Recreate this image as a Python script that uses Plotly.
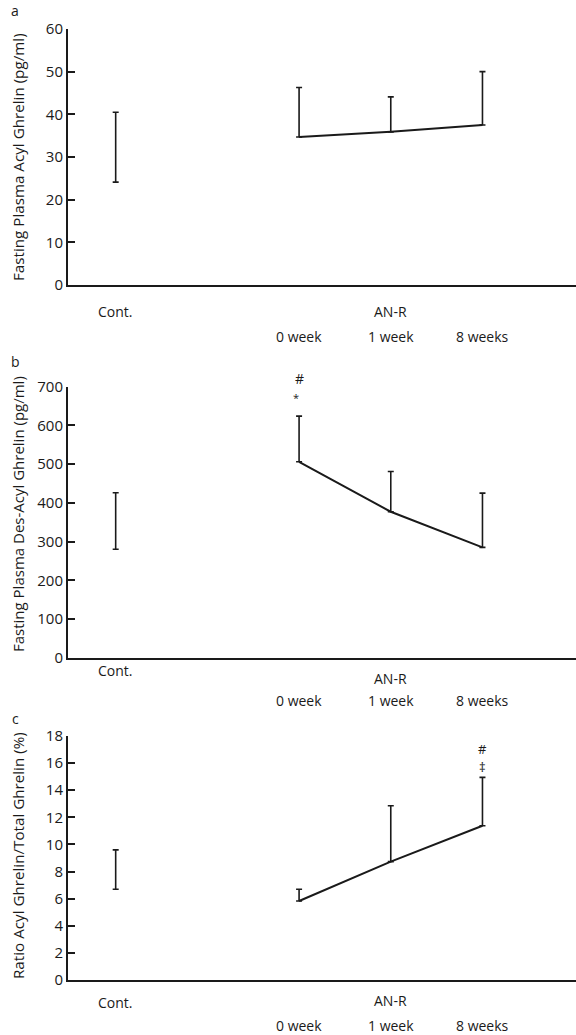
import plotly.graph_objects as go

# ---- data ----
weeks = ["0 week", "1 week", "8 weeks"]
group_labels = ["Cont.", "AN-R"]

# panel a: acyl ghrelin (pg/ml)
acyl_cont_mean = 32.3
acyl_cont_sd = 8.2
acyl_anr_mean = [34.7, 35.9, 37.5]
acyl_anr_sd = [11.6, 8.2, 12.5]

# panel b: des-acyl ghrelin (pg/ml)
des_cont_mean = 353
des_cont_sd = 73
des_anr_mean = [506, 377, 285]
des_anr_sd = [118, 104, 140]

# panel c: ratio acyl / total (%)
ratio_cont_mean = 8.15
ratio_cont_sd = 1.45
ratio_anr_mean = [5.83, 8.73, 11.38]
ratio_anr_sd = [0.87, 4.12, 3.57]

y_titles = [
    "Fasting Plasma Acyl Ghrelin (pg/ml)",
    "Fasting Plasma Des-Acyl Ghrelin (pg/ml)",
    "Ratio Acyl Ghrelin/Total Ghrelin (%)",
]
y_ranges = [[0, 60], [0, 700], [0, 18]]
y_dtick = [10, 100, 2]
panel_letters = ["a", "b", "c"]

# x positions (numeric scale)
x_cont = 0
x_weeks = [2, 3, 4]

INK = "#1a1a1a"
FONT = "Open Sans"
H = 1035.0
W = 576.0
ML = 68.0

# pixel geometry of the panels
panel_px = [(29, 285), (386.7, 657.7), (736, 980)]          # (top, bottom)
cont_px = [311, 670, 1002]                                   # y of "Cont."
anr_px = [311, 678, 1000]                                    # y of "AN-R"
week_px = [336, 700, 1025]                                   # y of week labels
title_cy = [157, 514, 856]                                   # y-title centres
title_size = [15.2, 15.0, 15.2]
letter_px = [10, 362, 718]

fig = go.Figure()

panels = [
    (acyl_cont_mean, acyl_cont_sd, acyl_anr_mean, acyl_anr_sd),
    (des_cont_mean, des_cont_sd, des_anr_mean, des_anr_sd),
    (ratio_cont_mean, ratio_cont_sd, ratio_anr_mean, ratio_anr_sd),
]

for i, (cm, cs, am, asd) in enumerate(panels):
    xa = "x" if i == 0 else f"x{i+1}"
    ya = "y" if i == 0 else f"y{i+1}"
    # control: mean ± SD bar, no marker
    fig.add_trace(go.Scatter(
        x=[x_cont], y=[cm], mode="markers",
        marker=dict(size=1, color="rgba(0,0,0,0)"),
        error_y=dict(type="data", array=[cs], arrayminus=[cs], symmetric=False,
                     color=INK, thickness=1.6, width=3),
        xaxis=xa, yaxis=ya, showlegend=False, hoverinfo="skip"))
    # AN-R: mean line with upward SD bars
    fig.add_trace(go.Scatter(
        x=x_weeks, y=am, mode="lines",
        line=dict(color=INK, width=2),
        error_y=dict(type="data", array=asd, arrayminus=[0, 0, 0], symmetric=False,
                     color=INK, thickness=1.6, width=3),
        xaxis=xa, yaxis=ya, showlegend=False, hoverinfo="skip"))

layout = dict(
    width=576, height=1035,
    margin=dict(l=ML, r=0, t=0, b=0, autoexpand=False),
    paper_bgcolor="white", plot_bgcolor="white",
    font=dict(family=FONT, color=INK, size=12),
)


def px_x(px):
    return (px - ML) / (W - ML)


def lab(x, y, text, size, xref, **kw):
    d = dict(x=x, y=y, xref=xref, yref="paper", text=text, showarrow=False,
             font=dict(family=FONT, size=size, color=INK), yanchor="middle")
    d.update(kw)
    return d


annotations = []
for i in range(3):
    top, bot = panel_px[i]
    dom = [1 - bot / H, 1 - top / H]
    sx = "" if i == 0 else str(i + 1)
    layout[f"xaxis{sx}"] = dict(
        domain=[0, 1], range=[-0.52, 5.02], anchor=f"y{sx}", automargin=False,
        showticklabels=False, ticks="", showgrid=False, zeroline=False,
        showline=True, linecolor=INK, linewidth=2,
    )
    layout[f"yaxis{sx}"] = dict(
        domain=dom, range=y_ranges[i], dtick=y_dtick[i], anchor=f"x{sx}",
        automargin=False,
        showgrid=False, zeroline=False, showline=True, linecolor=INK, linewidth=2,
        ticks="inside", ticklen=7, tickwidth=1.5, tickcolor=INK,
        tickfont=dict(family=FONT, size=15, color=INK),
    )
    xr = "x" if i == 0 else f"x{i+1}"
    annotations.append(lab(x_cont, 1 - cont_px[i] / H, group_labels[0], 14, xr))
    annotations.append(lab(x_weeks[1], 1 - anr_px[i] / H, group_labels[1], 14, xr))
    for xw, wl in zip(x_weeks, weeks):
        annotations.append(lab(xw, 1 - week_px[i] / H, wl, 14, xr))
    # y-axis title
    annotations.append(lab(px_x(18), 1 - title_cy[i] / H, y_titles[i], title_size[i], "paper",
                           textangle=-90, xanchor="center"))
    # panel letter
    annotations.append(lab(px_x(15), 1 - letter_px[i] / H, panel_letters[i], 14, "paper",
                           xanchor="center"))

# significance marks
annotations.append(lab(x_weeks[0], 1 - 378 / H, "#", 14, "x2"))
annotations.append(lab(x_weeks[0] - 0.03, 1 - 397 / H, "*", 11, "x2"))
annotations.append(lab(x_weeks[2], 1 - 749 / H, "#", 13, "x3"))
annotations.append(lab(x_weeks[2], 1 - 767 / H, "‡", 13, "x3"))

layout["annotations"] = annotations
fig.update_layout(**layout)
fig.write_html("out.html", config={"displayModeBar": False},
               post_script="document.body.style.margin='0';document.body.style.overflow='hidden';")
